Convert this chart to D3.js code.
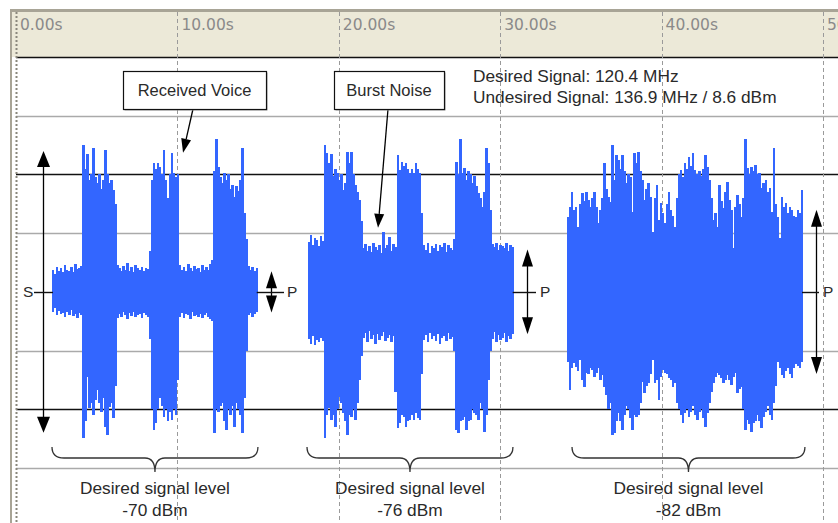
<!DOCTYPE html>
<html><head><meta charset="utf-8">
<script src="https://cdn.jsdelivr.net/npm/d3@7"></script>
<style>html,body{margin:0;padding:0;background:#fff;}svg{display:block;}</style>
</head><body>
<script>
// ---- data ----
const tickValues = [0, 10, 20, 30, 40, 50];
const tickLabels = ["0.00s", "10.00s", "20.00s", "30.00s", "40.00s", "50.00s"];
const gridLevels = [4, 3, 2, 1, -1, -2, -3];
const gridStrong = [4, 2, -2];
const burstStart = [2.29, 18.15, 34.2];   // seconds
const sampleStep = 0.125;                 // seconds
const burst1Top = [0.38,0.30,0.42,0.35,0.40,0.33,0.45,0.37,0.36,0.42,0.34,0.48,0.39,0.41,0.44,
  2.5,2.1,2.35,1.9,2.0,2.45,1.95,1.85,2.0,1.75,1.9,2.42,2.0,1.85,1.9,1.74,1.5,
  0.46,0.40,0.35,0.44,0.38,0.49,0.36,0.42,0.33,0.45,0.40,0.37,0.43,0.35,0.41,0.39,
  0.7,1.9,2.2,2.1,2.2,2.13,2.0,2.42,1.9,1.6,2.0,2.37,2.03,1.95,2.0,
  0.45,0.38,0.42,0.35,0.47,0.40,0.36,0.44,0.39,0.41,0.34,0.46,0.38,0.43,0.37,0.48,0.55,
  2.05,2.6,2.13,1.95,1.86,2.03,1.9,2.0,1.75,1.82,1.62,1.8,1.72,1.9,2.45,1.35,0.9,
  0.44,0.38,0.42,0.36,0.40];
const burst1Bottom = [-0.35,-0.28,-0.40,-0.33,-0.38,-0.36,-0.42,-0.34,-0.39,-0.31,-0.41,-0.37,-0.44,-0.36,-0.40,
  -2.49,-2.2,-1.45,-1.98,-1.9,-2.1,-1.85,-1.67,-1.9,-2.04,-1.8,-2.3,-2.44,-1.96,-1.9,-2.15,-1.6,
  -0.45,-0.38,-0.42,-0.35,-0.40,-0.47,-0.36,-0.41,-0.34,-0.43,-0.39,-0.37,-0.44,-0.36,-0.40,-0.42,
  -0.8,-2.0,-2.35,-2.23,-2.0,-1.8,-1.95,-2.13,-2.0,-2.2,-2.05,-2.18,-2.0,-2.1,-1.5,
  -0.42,-0.36,-0.44,-0.38,-0.40,-0.46,-0.35,-0.41,-0.39,-0.43,-0.37,-0.45,-0.40,-0.36,-0.42,-0.47,-0.5,
  -2.4,-2.0,-2.05,-1.95,-1.9,-2.2,-2.35,-2.0,-2.1,-1.95,-2.3,-1.9,-2.0,-2.1,-2.4,-1.8,-1.0,
  -0.40,-0.36,-0.43,-0.38,-0.35];
const burst2Top = [0.85,0.97,0.80,0.92,0.88,0.78,0.95,0.86,
  2.5,2.37,2.2,2.35,1.97,2.1,2.03,1.9,2.0,1.74,1.85,2.39,2.2,2.39,2.0,1.82,1.7,1.57,1.2,
  0.75,0.82,0.70,0.78,0.68,0.84,0.76,0.72,0.80,0.66,1.02,0.74,0.79,0.94,0.70,0.81,0.77,
  2.33,2.08,2.21,2.15,2.2,2.1,2.03,2.1,2.03,2.2,2.1,2.03,1.35,
  0.80,0.72,0.84,0.66,0.78,0.74,0.82,0.70,0.79,0.76,0.83,0.68,0.80,0.75,0.72,0.90,
  2.21,2.0,2.6,2.03,2.11,1.9,2.06,2.0,1.85,1.98,1.8,1.69,1.6,1.45,1.7,2.45,2.2,1.4,
  0.82,0.76,0.84,0.72,0.80,0.78,0.74,0.83,0.70,0.80,0.76];
const burst2Bottom = [-0.80,-0.88,-0.75,-0.90,-0.82,-0.86,-0.78,-0.84,
  -2.49,-2.1,-1.98,-2.18,-2.1,-2.3,-2.0,-1.79,-1.9,-2.06,-2.2,-2.44,-2.1,-2.13,-2.0,-2.18,-1.9,-1.5,-1.1,
  -0.78,-0.70,-0.85,-0.66,-0.80,-0.74,-0.88,-0.72,-0.82,-0.76,-0.69,-0.84,-0.78,-0.73,-0.86,-0.75,-1.7,
  -2.32,-2.24,-2.1,-2.13,-2.3,-2.2,-2.18,-2.1,-2.18,-2.07,-2.15,-2.18,-1.4,
  -0.82,-0.74,-0.86,-0.70,-0.80,-0.76,-0.84,-0.72,-0.88,-0.78,-0.75,-0.83,-0.70,-0.80,-0.77,-1.0,
  -2.35,-2.4,-2.2,-2.18,-2.13,-2.35,-2.2,-2.18,-2.0,-2.07,-2.1,-2.18,-1.9,-2.0,-2.38,-2.1,-1.5,-1.0,
  -0.80,-0.68,-0.86,-0.74,-0.82,-0.78,-0.70,-0.85,-0.76,-0.80,-0.72];
const burst3Top = [1.28,1.45,1.7,1.4,1.45,1.11,1.5,1.69,1.55,1.7,1.57,1.45,1.6,1.7,1.45,1.17,1.4,1.6,2.2,1.75,
  1.62,1.53,2.5,1.9,2.33,2.25,2.1,2.33,2.05,1.86,2.0,1.95,1.36,2.37,2.2,2.39,2.05,1.9,1.57,1.75,
  1.86,1.62,1.02,1.6,1.82,1.23,1.51,1.35,1.17,1.5,1.7,1.4,1.3,1.1,1.6,2.0,2.08,1.95,2.2,2.1,
  2.3,2.15,2.37,2.08,2.0,2.05,1.98,2.1,2.33,2.13,1.9,1.6,1.23,1.35,1.11,1.82,1.55,1.43,1.7,1.87,
  1.57,1.4,0.75,1.45,1.65,1.5,1.28,1.6,2.6,2.11,2.0,2.13,2.05,2.16,2.0,2.03,1.77,1.85,1.9,1.7,
  1.77,1.36,2.45,1.5,1.28,0.92,1.62,1.45,1.51,1.35,1.45,1.4,1.3,1.28,1.4,1.35,1.74];
const burst3Bottom = [-1.2,-1.67,-1.3,-1.21,-1.28,-1.35,-1.16,-1.5,-1.62,-1.38,-1.4,-1.3,-1.33,-1.45,-1.38,-1.3,-1.5,-1.42,-1.62,-1.75,
  -2.0,-1.9,-2.44,-2.4,-2.2,-2.07,-2.2,-2.35,-2.1,-1.95,-2.0,-2.15,-2.35,-2.1,-2.13,-2.1,-1.9,-1.53,-1.72,-1.6,
  -1.55,-1.4,-1.16,-1.55,-1.5,-1.84,-1.45,-1.33,-1.38,-1.4,-1.47,-1.5,-1.62,-1.55,-1.9,-2.0,-2.1,-2.24,-2.07,-2.0,
  -2.13,-2.05,-1.95,-2.1,-2.18,-2.05,-2.0,-2.15,-2.3,-2.07,-1.9,-1.7,-1.55,-1.45,-1.38,-1.42,-1.47,-1.55,-1.5,-1.41,
  -1.5,-1.58,-1.45,-1.38,-1.72,-1.65,-1.62,-2.0,-2.35,-2.18,-2.25,-2.38,-2.24,-2.2,-2.1,-2.2,-2.32,-2.13,-2.05,-1.95,
  -2.1,-2.18,-1.9,-1.6,-1.2,-1.3,-1.41,-1.47,-1.35,-1.3,-1.4,-1.47,-1.3,-1.23,-1.26,-1.3,-1.2];
const levelLabels = ["-70 dBm", "-76 dBm", "-82 dBm"];
const braceSpans = [[2.23, 14.99], [18.03, 30.79], [34.45, 48.88]];
const arrowAmps = [2.4, 0.35, 0.72, 1.4];          // S, P, P, P
const arrowTimes = [1.69, 15.8, 31.66, 49.57];
const arrowNames = ["S", "P", "P", "P"];
const infoLines = ["Desired Signal: 120.4 MHz", "Undesired Signal: 136.9 MHz / 8.6 dBm"];
const callouts = [
  {label: "Received Voice", tip: [10.35, 2.37]},
  {label: "Burst Noise", tip: [22.43, 1.09]}
];

// ---- chart ----
const W = 838, H = 523;
const svg = d3.select("body").append("svg").attr("width", W).attr("height", H);
const x = d3.scaleLinear().domain([0, 50]).range([16, 823]);
const y = d3.scaleLinear().domain([-3, 4]).range([468, 57]);
const FONT = "'Liberation Sans', Arial, sans-serif";
const TXT = "#2a2a2a";

// outer frame
svg.append("rect").attr("x", 10).attr("y", 9).attr("width", W - 10).attr("height", H - 9).attr("fill", "#fff");
svg.append("rect").attr("x", 12).attr("y", 12).attr("width", W - 12).attr("height", y(4) - 12).attr("fill", "#ECE9D8");
svg.append("line").attr("x1", 10).attr("x2", W).attr("y1", 10.5).attr("y2", 10.5).attr("stroke", "#a8a496").attr("stroke-width", 3);
svg.append("line").attr("x1", 11).attr("x2", 11).attr("y1", 9).attr("y2", H).attr("stroke", "#a8a496").attr("stroke-width", 2);

// horizontal grid
svg.append("g").selectAll("line").data(gridLevels).join("line")
  .attr("x1", x(0)).attr("x2", W)
  .attr("y1", d => Math.round(y(d)) + 0.5).attr("y2", d => Math.round(y(d)) + 0.5)
  .attr("stroke", d => gridStrong.includes(d) ? "#111" : "#aaa")
  .attr("stroke-width", d => gridStrong.includes(d) ? 1.6 : 1.3);

// vertical dashed ticks
svg.append("g").selectAll("line").data(tickValues).join("line")
  .attr("x1", d => Math.round(x(d)) + 0.5).attr("x2", d => Math.round(x(d)) + 0.5)
  .attr("y1", 12).attr("y2", H)
  .attr("stroke", d => d === 0 ? "#8a877c" : "#9a9a9a")
  .attr("stroke-width", d => d === 0 ? 2 : 1)
  .attr("stroke-dasharray", d => d === 0 ? "2,2" : "4,3");

// ruler labels
svg.append("g").selectAll("text").data(tickValues).join("text")
  .attr("x", d => x(d) + 4).attr("y", 30)
  .attr("font-family", "'DejaVu Sans', Verdana, sans-serif").attr("font-size", 15.5)
  .attr("fill", "#8a8a8a")
  .text((d, i) => tickLabels[i]);

// waveform bursts
const bursts = [[burst1Top, burst1Bottom], [burst2Top, burst2Bottom], [burst3Top, burst3Bottom]];
const wave = svg.append("g").attr("shape-rendering", "crispEdges");
bursts.forEach(([tops, bots], b) => {
  const samples = tops.map((v, i) => ({t: burstStart[b] + i * sampleStep, top: v, bot: bots[i]}));
  wave.append("g").selectAll("rect").data(samples).join("rect")
    .attr("x", d => x(d.t) - 1.2).attr("width", 2.6)
    .attr("y", d => y(d.top)).attr("height", d => y(d.bot) - y(d.top))
    .attr("fill", "#3366ff");
});

// level arrows (S / P)
function arrowHead(g, xc, tipY, dir, len, hw) {
  g.append("path")
    .attr("d", `M${xc},${tipY} L${xc - hw},${tipY + dir * len} L${xc + hw},${tipY + dir * len} Z`)
    .attr("fill", "#000");
}
const ann = svg.append("g");
arrowTimes.forEach((t, i) => {
  const xc = Math.round(x(t)) + 0.5;
  const a = arrowAmps[i];
  const len = i === 0 ? 16 : 17, hw = i === 0 ? 6.5 : 5.5;
  ann.append("line").attr("x1", xc).attr("x2", xc).attr("y1", y(a) + 4).attr("y2", y(-a) - 4)
    .attr("stroke", "#000").attr("stroke-width", 1.3);
  arrowHead(ann, xc, y(a), 1, len, hw);
  arrowHead(ann, xc, y(-a), -1, len, hw);
});
// S connector and label
const cy = Math.round(y(0)) + 0.5;
ann.append("line").attr("x1", 34).attr("x2", x(burstStart[0])).attr("y1", cy).attr("y2", cy).attr("stroke", "#111").attr("stroke-width", 1.4);
// P connectors
const burstEnds = [0, 1, 2].map(b => burstStart[b] + (bursts[b][0].length - 1) * sampleStep);
[[burstEnds[0], 284], [burstEnds[1], 536], [burstEnds[2], 819]].forEach(([te, xe]) => {
  ann.append("line").attr("x1", x(te)).attr("x2", xe).attr("y1", cy).attr("y2", cy).attr("stroke", "#111").attr("stroke-width", 1.4);
});
const labelXs = [23, 287, 540, 823];
arrowNames.forEach((n, i) => {
  ann.append("text").attr("x", labelXs[i]).attr("y", y(0) + 5.5)
    .attr("font-family", FONT).attr("font-size", 15.5).attr("fill", TXT).text(n);
});

// callouts
const boxes = [[123, 71, 143, 38], [334, 71, 110, 38]];
const anchors = [[193, 109], [388, 109]];
callouts.forEach((c, i) => {
  const [bx, by, bw, bh] = boxes[i];
  const [ax, ay] = anchors[i];
  const tx = x(c.tip[0]), ty = y(c.tip[1]);
  const ang = Math.atan2(ty - ay, tx - ax);
  const len = 14, hw = 5;
  const bxp = tx - len * Math.cos(ang), byp = ty - len * Math.sin(ang);
  ann.append("line").attr("x1", ax).attr("y1", ay).attr("x2", bxp).attr("y2", byp)
    .attr("stroke", "#000").attr("stroke-width", 1.3);
  ann.append("path").attr("d",
    `M${tx},${ty} L${bxp - hw * Math.sin(ang)},${byp + hw * Math.cos(ang)} L${bxp + hw * Math.sin(ang)},${byp - hw * Math.cos(ang)} Z`)
    .attr("fill", "#000");
  ann.append("rect").attr("x", bx + 1.5).attr("y", by + 1.5).attr("width", bw).attr("height", bh).attr("fill", "#9a9a9a");
  ann.append("rect").attr("x", bx + 0.5).attr("y", by + 0.5).attr("width", bw).attr("height", bh)
    .attr("fill", "#fff").attr("stroke", "#111").attr("stroke-width", 1.2);
  ann.append("text").attr("x", bx + bw / 2).attr("y", by + 24.5).attr("text-anchor", "middle")
    .attr("font-family", FONT).attr("font-size", 16.5).attr("fill", TXT).text(c.label);
});

// info text
infoLines.forEach((l, i) => {
  ann.append("text").attr("x", 473).attr("y", 82 + i * 20.5)
    .attr("font-family", FONT).attr("font-size", 17.3).attr("fill", TXT).text(l);
});

// braces and labels
braceSpans.forEach(([t1, t2], i) => {
  const x1 = x(t1), x2 = x(t2), xm = (x1 + x2) / 2;
  const yTop = 447, yMid = 458, yTip = 472;
  ann.append("path").attr("d",
    `M${x1},${yTop} Q${x1},${yMid} ${x1 + 12},${yMid} L${xm - 10},${yMid} Q${xm},${yMid} ${xm},${yTip} Q${xm},${yMid} ${xm + 10},${yMid} L${x2 - 12},${yMid} Q${x2},${yMid} ${x2},${yTop}`)
    .attr("fill", "none").attr("stroke", "#333").attr("stroke-width", 1.3);
  ann.append("text").attr("x", xm).attr("y", 494).attr("text-anchor", "middle")
    .attr("font-family", FONT).attr("font-size", 17.3).attr("fill", TXT).text("Desired signal level");
  ann.append("text").attr("x", xm).attr("y", 515.5).attr("text-anchor", "middle")
    .attr("font-family", FONT).attr("font-size", 17.3).attr("fill", TXT).text(levelLabels[i]);
});
</script>
</body></html>
